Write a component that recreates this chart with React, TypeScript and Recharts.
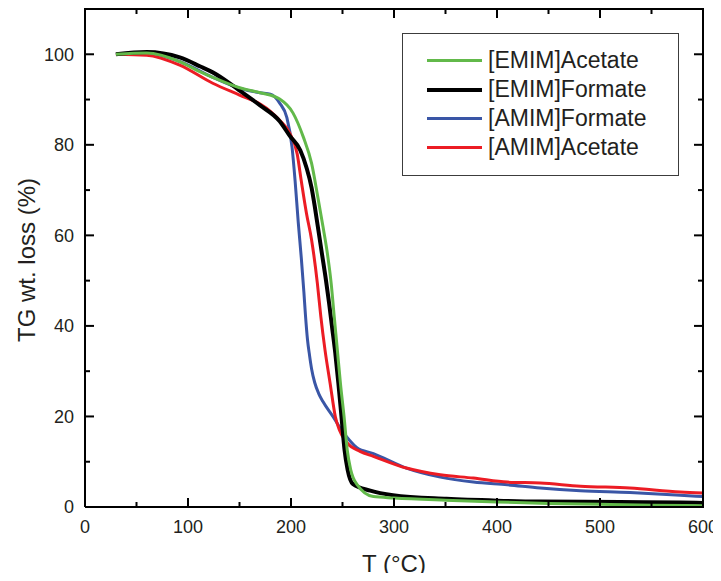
import { Legend, Line, LineChart, XAxis, YAxis } from "recharts";

// temperatures (°C) and remaining weight (%)
const emimAcetateT = [30, 60, 92, 112, 124, 150, 170, 189, 202, 212, 220, 226, 231, 235, 239, 242, 245, 248, 251.5, 254.6, 258, 264, 280, 300, 350, 400, 450, 500, 550, 600];
const emimAcetateWt = [100, 100.3, 98.4, 96.1, 94.9, 92.6, 91.5, 90.1, 87, 81.7, 75.9, 68.5, 62, 56.5, 49.4, 42, 34.7, 27.3, 20, 12.6, 8.2, 5.0, 2.3, 2.0, 1.5, 1.1, 0.8, 0.6, 0.4, 0.3];

const emimFormateT = [30, 60, 92, 112, 124, 150, 170, 189, 199, 209, 215, 220, 223, 226, 230, 234, 237, 240, 243, 246, 249, 252, 255, 260, 277, 299, 351, 400, 442, 519, 578, 600];
const emimFormateWt = [100, 100.5, 99.3, 97.3, 96, 92, 88.7, 85.2, 81.9, 78.8, 75, 70.5, 66.5, 62, 56, 50, 45, 39.5, 34, 27.3, 20, 12.6, 8.2, 5.1, 3.6, 2.6, 1.8, 1.4, 1.2, 1.1, 1.0, 0.9];

const amimFormateT = [30, 60, 92, 124, 150, 170, 180, 189, 196, 201, 204, 207, 210, 212.5, 214, 216, 218, 220, 223, 227, 231, 241, 249, 257, 264, 280, 312, 345, 377, 410, 442, 481, 529, 578, 600];
const amimFormateWt = [100, 100.3, 98.4, 94.9, 92.5, 91.5, 91.2, 89.2, 86, 79.5, 72, 63, 55, 47.5, 42.5, 37, 33.5, 30.5, 27.5, 25, 23.3, 19.9, 17, 14.7, 13.1, 11.8, 8.6, 6.6, 5.5, 4.9, 4.2, 3.6, 3.2, 2.6, 2.3];

const amimAcetateT = [30, 60, 92, 124, 150, 170, 180, 189, 199, 206, 210, 215, 220, 225.6, 229, 233, 238, 243, 247, 254, 267, 280, 312, 345, 377, 410, 442, 481, 529, 578, 600];
const amimAcetateWt = [100, 99.8, 97.6, 93.6, 91, 89, 87.4, 85.4, 82.5, 78, 72, 64.9, 59, 49.4, 42, 34.7, 27.3, 20, 17, 14.3, 12.3, 11.2, 8.6, 7.1, 6.4, 5.5, 5.3, 4.6, 4.2, 3.3, 3.1];

const xTicks = [0, 50, 100, 150, 200, 250, 300, 350, 400, 450, 500, 550, 600];
const yTicks = [0, 10, 20, 30, 40, 50, 60, 70, 80, 90, 100];

const FONT = "'Liberation Sans', Arial, sans-serif";
const TEXT = "#231f20";

const W = 721;
const H = 581;
const MARGIN = { top: 9, right: 18, bottom: 0, left: 0 };
const Y_AXIS_W = 85;
const X_AXIS_H = 74;
const PLOT_TOP = MARGIN.top;
const PLOT_RIGHT = W - MARGIN.right;
const PLOT_LEFT = MARGIN.left + Y_AXIS_W;
const PLOT_BOTTOM = H - MARGIN.bottom - X_AXIS_H;

const toPoints = (t: number[], wt: number[]) => t.map((x, i) => ({ t: x, wt: wt[i] }));

const SERIES = {
  emimAcetate: { name: "[EMIM]Acetate", data: toPoints(emimAcetateT, emimAcetateWt), color: "#62b94a", width: 3 },
  emimFormate: { name: "[EMIM]Formate", data: toPoints(emimFormateT, emimFormateWt), color: "#000000", width: 4 },
  amimFormate: { name: "[AMIM]Formate", data: toPoints(amimFormateT, amimFormateWt), color: "#3a56a6", width: 3 },
  amimAcetate: { name: "[AMIM]Acetate", data: toPoints(amimAcetateT, amimAcetateWt), color: "#ec1c24", width: 3 },
};
const legendOrder = [SERIES.emimAcetate, SERIES.emimFormate, SERIES.amimFormate, SERIES.amimAcetate];
const drawOrder = [SERIES.amimFormate, SERIES.amimAcetate, SERIES.emimFormate, SERIES.emimAcetate];

// bottom tick plus its mirror on the top edge
function BottomTick(props: any) {
  const { x, y, payload } = props;
  const major = payload.value % 100 === 0;
  const len = major ? 9 : 5;
  return (
    <g>
      <line x1={x} x2={x} y1={y} y2={y - len} stroke="#000" strokeWidth={2} />
      <line x1={x} x2={x} y1={PLOT_TOP} y2={PLOT_TOP + len} stroke="#000" strokeWidth={2} />
      {major ? (
        <text x={x} y={y + 26} textAnchor="middle" fontSize={18} fontFamily={FONT} fill={TEXT}>
          {payload.value}
        </text>
      ) : null}
    </g>
  );
}

// left tick plus its mirror on the right edge
function LeftTick(props: any) {
  const { x, y, payload } = props;
  const major = payload.value % 20 === 0;
  const len = major ? 9 : 5;
  return (
    <g>
      <line x1={x} x2={x + len} y1={y} y2={y} stroke="#000" strokeWidth={2} />
      <line x1={PLOT_RIGHT} x2={PLOT_RIGHT - len} y1={y} y2={y} stroke="#000" strokeWidth={2} />
      {major ? (
        <text x={x - 11} y={y} dy="0.35em" textAnchor="end" fontSize={18} fontFamily={FONT} fill={TEXT}>
          {payload.value}
        </text>
      ) : null}
    </g>
  );
}

function LegendBox() {
  return (
    <div
      style={{
        boxSizing: "border-box",
        width: 277,
        height: 143,
        border: "1px solid #3c3c3c",
        background: "#fff",
        paddingTop: 12,
      }}
    >
      {legendOrder.map((s) => (
        <div key={s.name} style={{ display: "flex", alignItems: "center", height: 29 }}>
          <div style={{ marginLeft: 24, width: 55, height: s.width, background: s.color }} />
          <span style={{ marginLeft: 6, fontSize: 23, lineHeight: "29px", fontFamily: FONT, color: TEXT }}>
            {s.name}
          </span>
        </div>
      ))}
    </div>
  );
}

const frameStyle = {
  position: "absolute" as const,
  left: PLOT_LEFT - 1,
  top: PLOT_TOP - 1,
  width: PLOT_RIGHT - PLOT_LEFT + 2,
  height: PLOT_BOTTOM - PLOT_TOP + 2,
  boxSizing: "border-box" as const,
  borderTop: "2px solid #000",
  borderRight: "2px solid #000",
  pointerEvents: "none" as const,
};

export default function App() {
  return (
    <div style={{ position: "relative", margin: -8, width: W, height: H, background: "#fff" }}>
      <LineChart width={W} height={H} margin={MARGIN}>
        <XAxis
          dataKey="t"
          type="number"
          domain={[0, 600]}
          ticks={xTicks}
          interval={0}
          allowDataOverflow
          height={X_AXIS_H}
          tickSize={0}
          tickMargin={0}
          tickLine={false}
          axisLine={{ stroke: "#000", strokeWidth: 2 }}
          tick={BottomTick}
          label={{
            content: () => (
              <text x={394} y={572} textAnchor="middle" fontSize={24} fontFamily={FONT} fill={TEXT}>
                T (°C)
              </text>
            ),
          }}
        />
        <YAxis
          type="number"
          domain={[0, 110]}
          ticks={yTicks}
          interval={0}
          allowDataOverflow
          width={Y_AXIS_W}
          tickSize={0}
          tickMargin={0}
          tickLine={false}
          axisLine={{ stroke: "#000", strokeWidth: 2 }}
          tick={LeftTick}
          label={{
            content: () => (
              <text
                transform="translate(35,260) rotate(-90)"
                textAnchor="middle"
                fontSize={24}
                fontFamily={FONT}
                fill={TEXT}
              >
                TG wt. loss (%)
              </text>
            ),
          }}
        />
        <Legend
          layout="horizontal"
          verticalAlign="middle"
          align="center"
          wrapperStyle={{ left: 402, top: 33, width: 277, height: 143 }}
          content={() => <LegendBox />}
        />
        {drawOrder.map((s) => (
          <Line
            key={s.name}
            data={s.data}
            dataKey="wt"
            name={s.name}
            type="monotone"
            stroke={s.color}
            strokeWidth={s.width}
            dot={false}
            activeDot={false}
            isAnimationActive={false}
          />
        ))}
      </LineChart>
      <div style={frameStyle} />
    </div>
  );
}
